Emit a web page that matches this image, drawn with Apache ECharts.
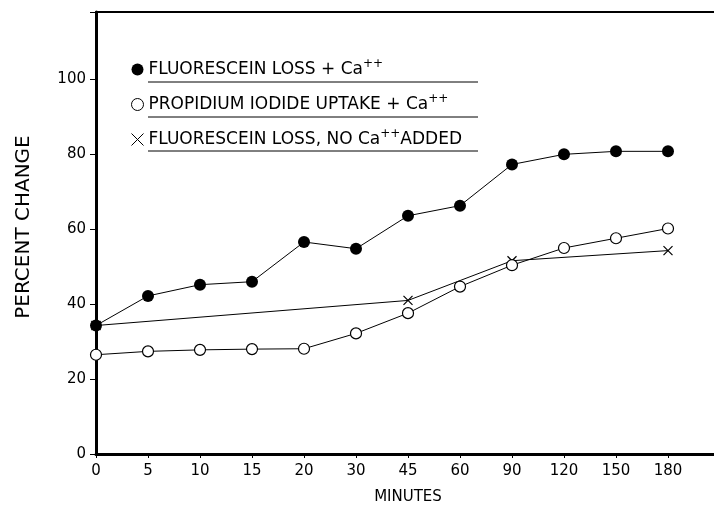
<!DOCTYPE html>
<html><head><meta charset="utf-8">
<script src="https://cdn.jsdelivr.net/npm/echarts@6/dist/echarts.min.js"></script>
<style>html,body{margin:0;padding:0;background:#fff}#c{width:714px;height:515px}</style>
</head><body><div id="c"></div>
<script>
var minutes = ['0','5','10','15','20','30','45','60','90','120','150','180',''];
var fluorCa = [34.3,42.2,45.2,46,56.6,54.8,63.6,66.3,77.3,80,80.8,80.8];
var propidiumCa = [26.5,27.4,27.8,28,28.1,32.2,37.6,44.7,50.4,55,57.6,60.2];
var fluorNoCa = [34.3,null,null,null,null,null,41,null,51.6,null,null,54.3];
var seriesNames = ['FLUORESCEIN LOSS + Ca', 'PROPIDIUM IODIDE UPTAKE + Ca', 'FLUORESCEIN LOSS, NO Ca'];
var seriesSuffix = ['', '', 'ADDED'];
var yTicks = [0,20,40,60,80,100];

var font = 'DejaVu Sans';
var chart = echarts.init(document.getElementById('c'));
var xPath = 'path://M0,0L10,10M10,0L0,10';
chart.setOption({
  animation:false,
  backgroundColor:'#fff',
  textStyle:{fontFamily:font,color:'#000'},
  grid:{left:96,top:12,bottom:61,width:624,show:false,outerBoundsMode:'none',containLabel:false},
  legend:{
    orient:'vertical',left:124,top:53,itemGap:15,itemWidth:12,itemHeight:12,
    textStyle:{fontFamily:font,fontSize:17,color:'#000',
      rich:{a:{fontFamily:font,fontSize:17,color:'#000'},s:{fontFamily:font,fontSize:12,color:'#000',padding:[0,0,11,0]}}},
    data:[
      {name:seriesNames[0],icon:'circle',itemStyle:{color:'#000'}},
      {name:seriesNames[1],icon:'circle',itemStyle:{color:'#fff',borderColor:'#000',borderWidth:1}},
      {name:seriesNames[2],icon:xPath,itemStyle:{color:'none',borderColor:'#000',borderWidth:1},itemHeight:9,itemWidth:9}
    ],
    formatter:function(n){var i=seriesNames.indexOf(n);return '{a|'+n+'}{s|++}'+(seriesSuffix[i]?'{a|'+seriesSuffix[i]+'}':'');}
  },
  graphic:[
    {type:'line',shape:{x1:148,y1:82,x2:478,y2:82},style:{stroke:'#000',lineWidth:1}},
    {type:'line',shape:{x1:148,y1:117,x2:478,y2:117},style:{stroke:'#000',lineWidth:1}},
    {type:'line',shape:{x1:148,y1:151,x2:478,y2:151},style:{stroke:'#000',lineWidth:1}}
  ],
  xAxis:[{
    type:'category',data:minutes,boundaryGap:false,
    name:'MINUTES',nameLocation:'middle',nameGap:36,
    nameTextStyle:{fontFamily:font,fontSize:15,color:'#000',padding:[0,0,0,0]},
    axisLine:{lineStyle:{color:'#000',width:3}},
    axisTick:{show:true,inside:false,length:4,lineStyle:{color:'#000',width:1},alignWithLabel:true},
    axisLabel:{fontFamily:font,fontSize:15,color:'#000',margin:10},
    splitLine:{show:false}
  },{
    type:'category',data:minutes,boundaryGap:false,position:'top',
    axisLine:{lineStyle:{color:'#000',width:2}},axisTick:{show:false},axisLabel:{show:false},splitLine:{show:false}
  }],
  yAxis:{
    type:'value',min:0,max:118,interval:20,
    name:'PERCENT CHANGE',nameLocation:'middle',nameGap:62,
    nameTextStyle:{fontFamily:font,fontSize:20,color:'#000',padding:[0,0,0,12]},
    axisLine:{show:true,lineStyle:{color:'#000',width:3}},
    axisTick:{show:true,length:6,lineStyle:{color:'#000',width:1}},
    axisLabel:{fontFamily:font,fontSize:15,color:'#000',margin:10,
      formatter:function(v){return yTicks.indexOf(v)>=0?String(v):'';}},
    splitLine:{show:false}
  },
  series:[
    {name:seriesNames[0],type:'line',data:fluorCa,symbol:'circle',symbolSize:12,
      lineStyle:{color:'#000',width:1},itemStyle:{color:'#000',borderWidth:0},z:4},
    {name:seriesNames[1],type:'line',data:propidiumCa,symbol:'circle',symbolSize:11,showAllSymbol:true,
      lineStyle:{color:'#000',width:1},itemStyle:{color:'#fff',borderColor:'#000',borderWidth:1.2},z:3},
    {name:seriesNames[2],type:'line',data:fluorNoCa,connectNulls:true,symbol:xPath,symbolSize:9,
      lineStyle:{color:'#000',width:1},itemStyle:{color:'none',borderColor:'#000',borderWidth:1.2},z:2}
  ]
});
</script></body></html>
